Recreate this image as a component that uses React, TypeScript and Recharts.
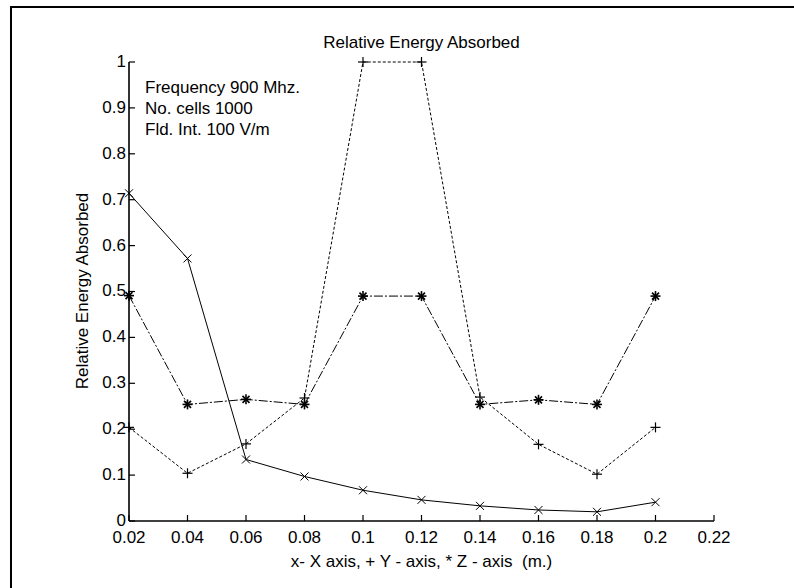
import React from "react";
import { LineChart, Line, XAxis, YAxis } from "recharts";

const positions = [0.02, 0.04, 0.06, 0.08, 0.1, 0.12, 0.14, 0.16, 0.18, 0.2];
const xAxisSeries = [0.714, 0.572, 0.134, 0.097, 0.067, 0.046, 0.033, 0.024, 0.02, 0.041];
const yAxisSeries = [0.204, 0.104, 0.168, 0.268, 1.0, 1.0, 0.27, 0.167, 0.102, 0.204];
const zAxisSeries = [0.491, 0.254, 0.265, 0.254, 0.49, 0.49, 0.254, 0.264, 0.254, 0.49];

const xTicks = [0.02, 0.04, 0.06, 0.08, 0.1, 0.12, 0.14, 0.16, 0.18, 0.2, 0.22];
const yTicks = [0, 0.1, 0.2, 0.3, 0.4, 0.5, 0.6, 0.7, 0.8, 0.9, 1];

const notes = ["Frequency 900 Mhz.", "No. cells 1000", "Fld. Int. 100 V/m"];

const data = positions.map((p, i) => ({
  pos: p,
  X: xAxisSeries[i],
  Y: yAxisSeries[i],
  Z: zAxisSeries[i],
}));

const FONT = "'Liberation Sans', Arial, Helvetica, sans-serif";
const FS = 17;
const TICK = 6; // tickSize given to every axis, ticks are then drawn inwards by hand
const fmt = (v: number) => String(Number(v.toFixed(2)));

const BottomTick = (p: any) => {
  const ay = p.y - TICK;
  return (
    <g>
      <line x1={p.x} x2={p.x} y1={ay} y2={ay - TICK} stroke="#000" strokeWidth={1.2} />
      <text x={p.x} y={ay + 16} dy="0.35em" textAnchor="middle" fontSize={FS} fontFamily={FONT} fill="#000">
        {fmt(p.payload.value)}
      </text>
    </g>
  );
};

const LeftTick = (p: any) => {
  const ax = p.x + TICK;
  return (
    <g>
      <line x1={ax} x2={ax + TICK} y1={p.y} y2={p.y} stroke="#000" strokeWidth={1.2} />
      <text x={ax - 3} y={p.y - 1} dy="0.35em" textAnchor="end" fontSize={FS} fontFamily={FONT} fill="#000">
        {fmt(p.payload.value)}
      </text>
    </g>
  );
};

const TopTick = (p: any) => {
  const ay = p.y + TICK;
  return <line x1={p.x} x2={p.x} y1={ay} y2={ay + TICK} stroke="#000" strokeWidth={1.2} />;
};

const RightTick = (p: any) => {
  const ax = p.x - TICK;
  return <line x1={ax} x2={ax - TICK} y1={p.y} y2={p.y} stroke="#000" strokeWidth={1.2} />;
};

const CrossDot = (p: any) => {
  const s = 4;
  return (
    <g stroke="#000" strokeWidth={1}>
      <line x1={p.cx - s} x2={p.cx + s} y1={p.cy - s} y2={p.cy + s} />
      <line x1={p.cx - s} x2={p.cx + s} y1={p.cy + s} y2={p.cy - s} />
    </g>
  );
};

const PlusDot = (p: any) => {
  const s = 5;
  return (
    <g stroke="#000" strokeWidth={1.2}>
      <line x1={p.cx - s} x2={p.cx + s} y1={p.cy} y2={p.cy} />
      <line x1={p.cx} x2={p.cx} y1={p.cy - s} y2={p.cy + s} />
    </g>
  );
};

const StarDot = (p: any) => {
  const s = 5;
  const d = 3.5;
  return (
    <g stroke="#000" strokeWidth={1.6}>
      <line x1={p.cx - s} x2={p.cx + s} y1={p.cy} y2={p.cy} />
      <line x1={p.cx} x2={p.cx} y1={p.cy - s} y2={p.cy + s} />
      <line x1={p.cx - d} x2={p.cx + d} y1={p.cy - d} y2={p.cy + d} />
      <line x1={p.cx - d} x2={p.cx + d} y1={p.cy + d} y2={p.cy - d} />
    </g>
  );
};

export default function App() {
  return (
    <div
      style={{
        position: "absolute",
        left: 0,
        top: 0,
        width: 794,
        height: 588,
        background: "#fff",
        overflow: "hidden",
        fontFamily: FONT,
      }}
    >
      <div
        style={{
          position: "absolute",
          left: 10,
          top: 6,
          width: 820,
          height: 620,
          borderLeft: "2px solid #000",
          borderTop: "2px solid #000",
        }}
      />
      <LineChart
        width={794}
        height={588}
        data={data}
        margin={{ top: 62, right: 80, bottom: 37, left: 79 }}
      >
        <XAxis
          xAxisId="main"
          dataKey="pos"
          type="number"
          domain={[0.02, 0.22]}
          ticks={xTicks}
          interval={0}
          height={30}
          tickSize={TICK}
          tickMargin={0}
          axisLine={{ stroke: "#000", strokeWidth: 1.6 }}
          tickLine={false}
          tick={(p: any) => <BottomTick {...p} />}
        />
        <XAxis
          xAxisId="top"
          orientation="top"
          dataKey="pos"
          type="number"
          domain={[0.02, 0.22]}
          ticks={xTicks}
          interval={0}
          height={0}
          tickSize={TICK}
          tickMargin={0}
          axisLine={{ stroke: "#000", strokeWidth: 1.6 }}
          tickLine={false}
          tick={(p: any) => <TopTick {...p} />}
        />
        <YAxis
          yAxisId="main"
          type="number"
          domain={[0, 1]}
          ticks={yTicks}
          interval={0}
          width={50}
          tickSize={TICK}
          tickMargin={0}
          axisLine={{ stroke: "#000", strokeWidth: 1.6 }}
          tickLine={false}
          tick={(p: any) => <LeftTick {...p} />}
        />
        <YAxis
          yAxisId="right"
          orientation="right"
          type="number"
          domain={[0, 1]}
          ticks={yTicks}
          interval={0}
          width={0}
          tickSize={TICK}
          tickMargin={0}
          axisLine={{ stroke: "#000", strokeWidth: 1.6 }}
          tickLine={false}
          tick={(p: any) => <RightTick {...p} />}
        />
        <Line
          xAxisId="main"
          yAxisId="main"
          dataKey="X"
          stroke="#000"
          strokeWidth={1}
          dot={(p: any) => <CrossDot key={"x" + p.index} {...p} />}
          isAnimationActive={false}
        />
        <Line
          xAxisId="main"
          yAxisId="main"
          dataKey="Y"
          stroke="#000"
          strokeWidth={1}
          strokeDasharray="3 2"
          dot={(p: any) => <PlusDot key={"y" + p.index} {...p} />}
          isAnimationActive={false}
        />
        <Line
          xAxisId="main"
          yAxisId="main"
          dataKey="Z"
          stroke="#000"
          strokeWidth={1}
          strokeDasharray="9 2 2 2"
          dot={(p: any) => <StarDot key={"z" + p.index} {...p} />}
          isAnimationActive={false}
        />
      </LineChart>
      <div
        style={{
          position: "absolute",
          left: 0,
          width: 843,
          top: 33,
          textAlign: "center",
          fontSize: FS,
          lineHeight: "20px",
        }}
      >
        Relative Energy Absorbed
      </div>
      {notes.map((n, i) => (
        <div
          key={n}
          style={{
            position: "absolute",
            left: 145,
            top: 78 + i * 21,
            fontSize: FS,
            lineHeight: "20px",
            whiteSpace: "nowrap",
          }}
        >
          {n}
        </div>
      ))}
      <div
        style={{
          position: "absolute",
          left: 0,
          width: 843,
          top: 552,
          textAlign: "center",
          fontSize: FS,
          lineHeight: "20px",
          whiteSpace: "pre",
        }}
      >
        {"x- X axis, + Y - axis, * Z - axis  (m.)"}
      </div>
      <div
        style={{
          position: "absolute",
          left: 83,
          top: 291,
          width: 0,
          height: 0,
        }}
      >
        <div
          style={{
            position: "absolute",
            left: -150,
            top: -10,
            width: 300,
            textAlign: "center",
            fontSize: FS,
            lineHeight: "20px",
            transform: "rotate(-90deg)",
            whiteSpace: "nowrap",
          }}
        >
          Relative Energy Absorbed
        </div>
      </div>
    </div>
  );
}
